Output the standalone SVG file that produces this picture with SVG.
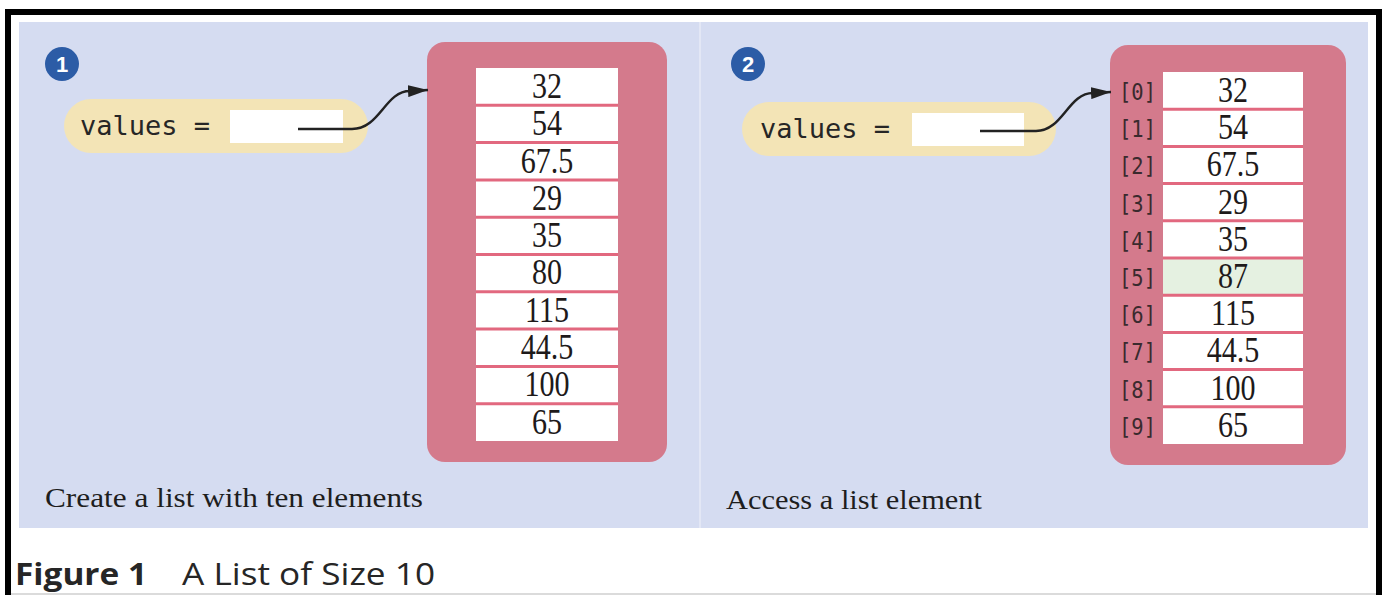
<svg xmlns="http://www.w3.org/2000/svg" width="1384" height="595" viewBox="0 0 1384 595">
<defs>
<style>
.num{font-family:"Liberation Serif",serif;font-size:35px;fill:#1e1a1a;text-anchor:middle}
.idx{font-family:"DejaVu Sans Mono",monospace;font-size:23px;fill:#3a2a2e}
.code{font-family:"DejaVu Sans Mono",monospace;font-size:27px;fill:#262626}
.cap{font-family:"Liberation Serif",serif;font-size:28px;fill:#1e1e1e}
.badge{font-family:"Liberation Sans",sans-serif;font-size:22px;font-weight:bold;fill:#fff;text-anchor:middle}
.pink{fill:#d47a8c}
.pill{fill:#f3e4b6}
.cell{fill:#fff}
.sep{stroke:#e2687f;stroke-width:3}
.conn{fill:none;stroke:#222;stroke-width:2.5}
</style>
<marker id="ah" markerWidth="20" markerHeight="12" refX="20" refY="6" orient="auto" markerUnits="userSpaceOnUse">
<path d="M0,0 L20,6 L0,12 Z" fill="#222"/>
</marker>
</defs>
<rect x="0" y="0" width="1384" height="595" fill="#fff"/>
<rect x="19" y="22" width="1349" height="506" fill="#d5dcf1"/>
<line x1="700" y1="22" x2="700" y2="528" stroke="#e3e7f5" stroke-width="2"/>
<!-- frame -->
<rect x="5" y="9" width="1377" height="6" fill="#000"/>
<rect x="5" y="9" width="6" height="586" fill="#000"/>
<rect x="1376" y="9" width="6" height="586" fill="#000"/>
<line x1="11" y1="594" x2="1376" y2="594" stroke="#cfcfcf" stroke-width="1.5"/>

<g id="badge1">
<circle cx="62" cy="64" r="17" fill="#2c5ca6"/>
<text class="badge" x="62" y="72">1</text>
</g>
<g id="badge2">
<circle cx="748" cy="64" r="17" fill="#2c5ca6"/>
<text class="badge" x="748" y="72">2</text>
</g>

<g id="var1">
<rect class="pill" x="64" y="99" width="304" height="54" rx="27"/>
<rect x="230" y="110" width="113" height="33" fill="#fff"/>
<text class="code" x="80" y="135">values =</text>
</g>
<g id="var2">
<rect class="pill" x="742" y="102" width="314" height="54" rx="27"/>
<rect x="912" y="113" width="112" height="33" fill="#fff"/>
<text class="code" x="760" y="138">values =</text>
</g>

<g id="list1">
<rect class="pink" x="427" y="42" width="240" height="420" rx="18"/>
<rect class="cell" x="476" y="68" width="142" height="373"/>
<g>
<line class="sep" x1="476" y1="105.3" x2="618" y2="105.3"/>
<line class="sep" x1="476" y1="142.6" x2="618" y2="142.6"/>
<line class="sep" x1="476" y1="179.9" x2="618" y2="179.9"/>
<line class="sep" x1="476" y1="217.2" x2="618" y2="217.2"/>
<line class="sep" x1="476" y1="254.5" x2="618" y2="254.5"/>
<line class="sep" x1="476" y1="291.8" x2="618" y2="291.8"/>
<line class="sep" x1="476" y1="329.1" x2="618" y2="329.1"/>
<line class="sep" x1="476" y1="366.4" x2="618" y2="366.4"/>
<line class="sep" x1="476" y1="403.7" x2="618" y2="403.7"/>
</g>
<g transform="translate(547,0) scale(0.86,1)">
<text class="num" x="0" y="98">32</text>
<text class="num" x="0" y="135.3">54</text>
<text class="num" x="0" y="172.6">67.5</text>
<text class="num" x="0" y="209.9">29</text>
<text class="num" x="0" y="247.2">35</text>
<text class="num" x="0" y="284.5">80</text>
<text class="num" x="0" y="321.8">115</text>
<text class="num" x="0" y="359.1">44.5</text>
<text class="num" x="0" y="396.4">100</text>
<text class="num" x="0" y="433.7">65</text>
</g>
</g>

<g id="list2">
<rect class="pink" x="1110" y="45" width="236" height="420" rx="18"/>
<rect class="cell" x="1163" y="72" width="140" height="372"/>
<rect x="1163" y="258.5" width="140" height="37.2" fill="#e5f1e1"/>
<g>
<line class="sep" x1="1163" y1="109.2" x2="1303" y2="109.2"/>
<line class="sep" x1="1163" y1="146.4" x2="1303" y2="146.4"/>
<line class="sep" x1="1163" y1="183.6" x2="1303" y2="183.6"/>
<line class="sep" x1="1163" y1="220.8" x2="1303" y2="220.8"/>
<line class="sep" x1="1163" y1="258" x2="1303" y2="258"/>
<line class="sep" x1="1163" y1="295.2" x2="1303" y2="295.2"/>
<line class="sep" x1="1163" y1="332.4" x2="1303" y2="332.4"/>
<line class="sep" x1="1163" y1="369.6" x2="1303" y2="369.6"/>
<line class="sep" x1="1163" y1="406.8" x2="1303" y2="406.8"/>
</g>
<g transform="translate(1233,0) scale(0.86,1)">
<text class="num" x="0" y="102">32</text>
<text class="num" x="0" y="139.2">54</text>
<text class="num" x="0" y="176.4">67.5</text>
<text class="num" x="0" y="213.6">29</text>
<text class="num" x="0" y="250.8">35</text>
<text class="num" x="0" y="288">87</text>
<text class="num" x="0" y="325.2">115</text>
<text class="num" x="0" y="362.4">44.5</text>
<text class="num" x="0" y="399.6">100</text>
<text class="num" x="0" y="436.8">65</text>
</g>
<g>
<text class="idx" x="1119" y="100" textLength="37" lengthAdjust="spacingAndGlyphs">[0]</text>
<text class="idx" x="1119" y="137.2" textLength="37" lengthAdjust="spacingAndGlyphs">[1]</text>
<text class="idx" x="1119" y="174.4" textLength="37" lengthAdjust="spacingAndGlyphs">[2]</text>
<text class="idx" x="1119" y="211.6" textLength="37" lengthAdjust="spacingAndGlyphs">[3]</text>
<text class="idx" x="1119" y="248.8" textLength="37" lengthAdjust="spacingAndGlyphs">[4]</text>
<text class="idx" x="1119" y="286" textLength="37" lengthAdjust="spacingAndGlyphs">[5]</text>
<text class="idx" x="1119" y="323.2" textLength="37" lengthAdjust="spacingAndGlyphs">[6]</text>
<text class="idx" x="1119" y="360.4" textLength="37" lengthAdjust="spacingAndGlyphs">[7]</text>
<text class="idx" x="1119" y="397.6" textLength="37" lengthAdjust="spacingAndGlyphs">[8]</text>
<text class="idx" x="1119" y="434.8" textLength="37" lengthAdjust="spacingAndGlyphs">[9]</text>
</g>
</g>

<g id="connectors">
<path class="conn" d="M298,129 H352 C380,129 385,91 410,91 L428,90" marker-end="url(#ah)"/>
<path class="conn" d="M980,131 H1036 C1063,131 1068,93 1093,93 L1111,92" marker-end="url(#ah)"/>
</g>

<g id="captions">
<text class="cap" x="45" y="507" textLength="378" lengthAdjust="spacingAndGlyphs">Create a list with ten elements</text>
<text class="cap" x="726" y="509" textLength="256" lengthAdjust="spacingAndGlyphs">Access a list element</text>
</g>

<g id="title">
<text x="15" y="585" font-family="'Open Sans','Liberation Sans',sans-serif" font-weight="bold" font-size="31" fill="#262626" textLength="132" lengthAdjust="spacingAndGlyphs">Figure 1</text>
<text x="182" y="585" font-family="'Open Sans','Liberation Sans',sans-serif" font-size="31" fill="#262626" textLength="253" lengthAdjust="spacingAndGlyphs">A List of Size 10</text>
</g>
</svg>
